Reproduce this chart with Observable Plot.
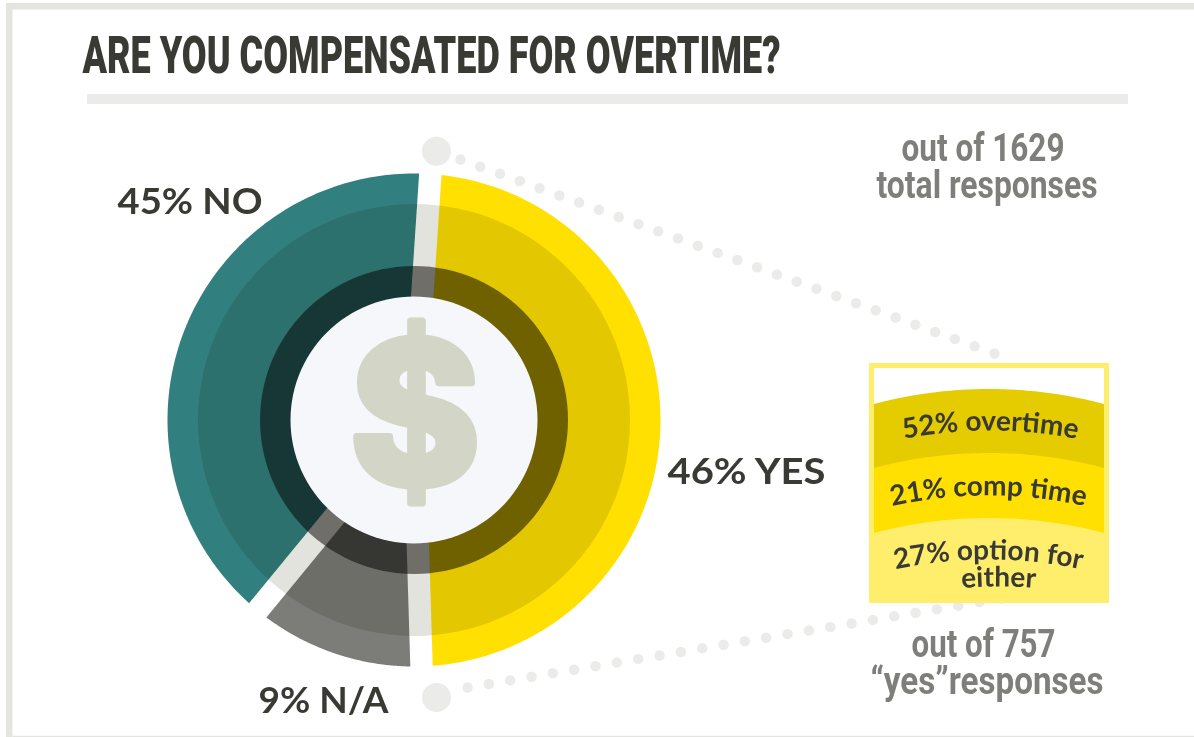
<!DOCTYPE html>
<html>
<head>
<meta charset="utf-8">
<script src="https://cdn.jsdelivr.net/npm/d3@7"></script>
<script src="https://cdn.jsdelivr.net/npm/@observablehq/plot@0.6"></script>
<style>html,body{margin:0;padding:0;background:#fff}svg{display:block}</style>
</head>
<body>
<div id="chart"></div>
<script>
// ---- data ----
const chartTitle = "ARE YOU COMPENSATED FOR OVERTIME?";
const sliceNames = ["YES", "N/A", "NO"];
const sliceShares = [46, 9, 45];
const sliceDrawnDegrees = [174.45, 41.15, 144.4]; // the drawn slices are not strictly proportional
const sliceStartDegrees = 3.8;
const totalResponses = 1629;
const yesResponses = 757;
const breakdownNames = ["overtime", "comp time", "option for"];
const breakdownShares = [52, 21, 27];

// ---- layout and style ----
const W = 1194, H = 737;
const ink = "#3a3a35", grey = "#7e7e7a", pale = "#ebebe9";
const sliceColors = ["#ffe000", "#7c7c79", "#327f80"];
const bandColors = ["#e5cc00", "#ffe000", "#ffed6c"];
const c = {x: 413.5, y: 419.5};
const radii = {outer: 246.5, mid: 216, inner: 154, hub: 123.5};
const gap = 11.2;
const rad = d => d * Math.PI / 180;
const polar = (r, deg) => ({x: c.x + r * Math.sin(rad(deg)), y: c.y - r * Math.cos(rad(deg))});
const arc = (r, a, b, n = 120) => d3.range(n + 1).map(i => polar(r, a + (b - a) * i / n));
function wedge(a, b) {
  const d = Math.asin(gap / radii.outer) * 180 / Math.PI;
  const apex = polar(gap / Math.sin(rad((b - a) / 2)), (a + b) / 2);
  return [apex, ...arc(radii.outer, a + d, b - d)];
}
const shape = (pts, fill, extra = {}) => Plot.line(pts, {x: "x", y: "y", fill, stroke: "none", ...extra});
const box = (x1, y1, x2, y2, fill) => Plot.rect([{x1, y1, x2, y2}], {x1: "x1", y1: "y1", x2: "x2", y2: "y2", fill});

const fit = new Map();
function label(t, x, y, o) {
  if (o.width) fit.set(t, o.width);
  return Plot.text([{x, y, t}], {x: "x", y: "y", text: "t", textAnchor: "start", lineAnchor: "bottom",
    fontFamily: o.font, fontSize: o.size, fontWeight: o.weight ?? 400, fill: o.fill ?? ink});
}
const narrow = "Roboto,'DejaVu Sans Condensed',sans-serif";
const round = "Lato,'Open Sans',sans-serif";

// slices
let start = sliceStartDegrees;
const sliceMarks = sliceDrawnDegrees.map((span, i) => {
  const m = shape(wedge(start, start + span), sliceColors[i]);
  start += span;
  return m;
});

// legend bands with an arched top
const bx1 = 874, bx2 = 1104, bcx = 989, bandR = 448;
const bandTops = [389, 453, 518];
const bandBottom = 603;
function bandPts(top) {
  return d3.range(61).map(i => {
    const x = bx1 + (bx2 - bx1) * i / 60;
    return {x, y1: top + bandR - Math.sqrt(bandR * bandR - (x - bcx) * (x - bcx)), y2: bandBottom};
  });
}
const bandMarks = bandTops.map((t, i) => Plot.area(bandPts(t), {x1: "x", y1: "y1", y2: "y2", fill: bandColors[i]}));

const leader = (pts, dash) => Plot.line(pts, {x: "x", y: "y", stroke: pale, strokeWidth: 10.5, strokeLinecap: "round", strokeDasharray: dash});

const curved = [
  {t: `${breakdownShares[0]}% ${breakdownNames[0]}`, cx: 990, y: 430},
  {t: `${breakdownShares[1]}% ${breakdownNames[1]}`, cx: 988, y: 495},
  {t: `${breakdownShares[2]}% ${breakdownNames[2]}`, cx: 988, y: 559},
  {t: "either", cx: 998, y: 586}
];

const plot = Plot.plot({
  width: W, height: H, margin: 0,
  x: {domain: [0, W], range: [0, W], axis: null},
  y: {domain: [0, H], range: [0, H], axis: null},
  style: {background: "#fff", overflow: "visible"},
  marks: [
    box(6, 3, W, 9.5, "#e5e5df"),
    box(6, 3, 12.5, H, "#e5e5df"),
    box(12.5, 735.8, W, H, "#e5e5df"),
    box(87, 94, 1128, 104, pale),
    label(chartTitle, 82, 72, {font: narrow, size: 51, weight: 900, width: 698}),
    // leaders
    shape(arc(14.5, 0, 360, 60).map(p => ({x: p.x - c.x + 436, y: p.y - c.y + 150.7})), pale),
    shape(arc(14.5, 0, 360, 60).map(p => ({x: p.x - c.x + 436, y: p.y - c.y + 697})), pale),
    leader([{x: 460, y: 159}, {x: 994, y: 353}], "0 21.04"),
    leader([{x: 467, y: 687}, {x: 1000.6, y: 598}], "0 21.63"),
    // donut
    ...sliceMarks,
    shape(arc(radii.mid, 0, 360), "#e3e3dd", {mixBlendMode: "multiply"}),
    shape(arc(radii.inner, 0, 360), "#7d7c79", {mixBlendMode: "multiply"}),
    shape(arc(radii.hub, 0, 360), "#f5f7fa"),
    Plot.text([{x: 414.5, y: 420, t: "$"}], {x: "x", y: "y", text: "t", fontFamily: "Inter", fontWeight: 800, fontSize: 198, fill: "#d3d5c7", stroke: "#d3d5c7", strokeWidth: 7, strokeLinejoin: "round"}),
    // slice labels
    label(`${sliceShares[2]}% ${sliceNames[2]}`, 117, 213, {font: round, size: 37, weight: 700, width: 145}),
    label(`${sliceShares[0]}% ${sliceNames[0]}`, 667, 483, {font: round, size: 37, weight: 700, width: 158}),
    label(`${sliceShares[1]}% ${sliceNames[1]}`, 258, 712, {font: round, size: 37, weight: 700, width: 130}),
    // response counts
    label(`out of ${totalResponses}`, 901, 160, {font: narrow, size: 39, weight: 700, fill: grey, width: 163}),
    label("total responses", 876, 197, {font: narrow, size: 39, weight: 700, fill: grey, width: 221}),
    label(`out of ${yesResponses}`, 911, 656, {font: narrow, size: 39, weight: 700, fill: grey, width: 144}),
    label("\u201cyes\u201dresponses", 870, 693, {font: narrow, size: 39, weight: 700, fill: grey, width: 233}),
    // breakdown box
    box(869, 363, 1109, 603, "#ffed6c"),
    box(bx1, 368, bx2, 598, "#fff"),
    ...bandMarks,
    ...curved.map(d => Plot.text([d], {x: "cx", y: "y", text: "t", fontFamily: round, fontSize: 28, fontWeight: 700, fill: ink}))
  ]
});

// fit straight labels to their measured widths
plot.querySelectorAll("text").forEach(el => {
  const w = fit.get(el.textContent);
  if (w) {
    el.setAttribute("textLength", w);
    el.setAttribute("lengthAdjust", "spacingAndGlyphs");
  }
});
// run breakdown labels along the arch of their band
const ns = "http://www.w3.org/2000/svg";
curved.forEach((d, i) => {
  const el = [...plot.querySelectorAll("text")].find(e => e.textContent === d.t);
  if (!el) return;
  const half = 200, R = bandR;
  const drop = R - Math.sqrt(R * R - half * half);
  const path = document.createElementNS(ns, "path");
  path.setAttribute("id", "arch" + i);
  path.setAttribute("fill", "none");
  path.setAttribute("d", `M${d.cx - half} ${d.y + drop}A${R} ${R} 0 0 1 ${d.cx + half} ${d.y + drop}`);
  plot.appendChild(path);
  const tp = document.createElementNS(ns, "textPath");
  tp.setAttribute("href", "#arch" + i);
  tp.setAttribute("startOffset", "50%");
  tp.textContent = d.t;
  el.textContent = "";
  ["x", "y", "dy", "transform"].forEach(a => el.removeAttribute(a));
  el.setAttribute("text-anchor", "middle");
  el.appendChild(tp);
});
document.getElementById("chart").appendChild(plot);
</script>
</body>
</html>
